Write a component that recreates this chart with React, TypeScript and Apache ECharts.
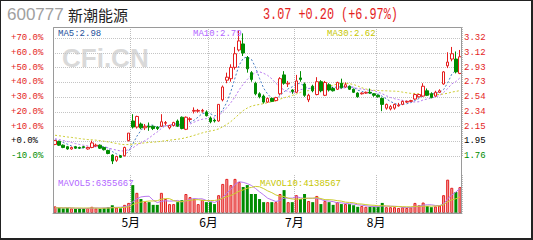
import React, { useEffect, useRef } from 'react';
import * as echarts from 'echarts';

const STOCK_CODE = '600777';
const STOCK_NAME = '新潮能源';
// close used as the 0.0% line of the percentage scale
const BASE_PRICE = 1.952;

const MONTH_NAMES = ['4月', '5月', '6月', '7月', '8月'];
const SESSIONS_PER_MONTH = [19, 19, 21, 20, 21];

// daily bars: [open, close, low, high]
const candles: number[][] = [
  // 4月
  [1.91, 1.96, 1.90, 1.97], [1.95, 1.90, 1.89, 1.96], [1.90, 1.87, 1.86, 1.91], [1.88, 1.85, 1.84, 1.89],
  [1.85, 1.87, 1.84, 1.88], [1.88, 1.86, 1.85, 1.89], [1.87, 1.86, 1.85, 1.88], [1.88, 1.87, 1.86, 1.89],
  [1.85, 1.87, 1.84, 1.88], [1.87, 1.93, 1.86, 1.96], [1.89, 1.90, 1.88, 1.92], [1.90, 1.86, 1.85, 1.91],
  [1.87, 1.84, 1.83, 1.88], [1.83, 1.79, 1.78, 1.84], [1.77, 1.69, 1.65, 1.78], [1.70, 1.75, 1.68, 1.76],
  [1.76, 1.74, 1.73, 1.77], [1.76, 1.87, 1.75, 1.88], [1.96, 2.06, 1.95, 2.06],
  // 5月
  [2.22, 2.14, 2.12, 2.31], [2.14, 2.28, 2.12, 2.29], [2.18, 2.13, 2.11, 2.20], [2.13, 2.15, 2.10, 2.18],
  [2.15, 2.14, 2.09, 2.20], [2.15, 2.12, 2.10, 2.16], [2.14, 2.12, 2.10, 2.15], [2.15, 2.21, 2.14, 2.31],
  [2.19, 2.20, 2.16, 2.22], [2.13, 2.16, 2.11, 2.17], [2.16, 2.20, 2.15, 2.21], [2.22, 2.15, 2.14, 2.24],
  [2.27, 2.12, 2.11, 2.28], [2.11, 2.27, 2.10, 2.28], [2.24, 2.25, 2.21, 2.27], [2.35, 2.36, 2.32, 2.40],
  [2.35, 2.36, 2.33, 2.38], [2.35, 2.36, 2.33, 2.38], [2.34, 2.29, 2.28, 2.36],
  // 6月
  [2.26, 2.21, 2.19, 2.28], [2.23, 2.22, 2.20, 2.25], [2.22, 2.44, 2.21, 2.44], [2.50, 2.67, 2.48, 2.69],
  [2.76, 2.80, 2.72, 2.86], [2.78, 2.93, 2.74, 2.97], [2.93, 3.11, 2.90, 3.20], [3.16, 3.28, 3.14, 3.42],
  [3.24, 3.12, 3.08, 3.38], [3.06, 2.91, 2.86, 3.08], [2.86, 2.77, 2.74, 2.88], [2.72, 2.58, 2.56, 2.74],
  [2.58, 2.54, 2.52, 2.60], [2.55, 2.47, 2.45, 2.57], [2.47, 2.52, 2.46, 2.53], [2.52, 2.48, 2.47, 2.53],
  [2.49, 2.53, 2.48, 2.54], [2.58, 2.78, 2.56, 2.80], [2.83, 2.72, 2.70, 2.88], [2.71, 2.72, 2.67, 2.75],
  [2.63, 2.61, 2.58, 2.64],
  // 7月
  [2.60, 2.75, 2.59, 2.83], [2.79, 2.77, 2.74, 2.88], [2.71, 2.56, 2.54, 2.73], [2.50, 2.56, 2.47, 2.58],
  [2.68, 2.62, 2.60, 2.70], [2.57, 2.74, 2.56, 2.80], [2.74, 2.62, 2.60, 2.76], [2.56, 2.73, 2.55, 2.75],
  [2.70, 2.63, 2.61, 2.72], [2.65, 2.62, 2.61, 2.67], [2.64, 2.73, 2.63, 2.74], [2.72, 2.66, 2.65, 2.78],
  [2.67, 2.70, 2.66, 2.73], [2.68, 2.64, 2.63, 2.69], [2.64, 2.60, 2.59, 2.65], [2.59, 2.54, 2.53, 2.60],
  [2.58, 2.59, 2.57, 2.60], [2.59, 2.60, 2.58, 2.61], [2.60, 2.59, 2.58, 2.65], [2.58, 2.56, 2.54, 2.59],
  // 8月
  [2.56, 2.54, 2.53, 2.57], [2.52, 2.44, 2.35, 2.53], [2.39, 2.44, 2.37, 2.45], [2.38, 2.41, 2.36, 2.43],
  [2.39, 2.44, 2.37, 2.45], [2.42, 2.43, 2.41, 2.46], [2.44, 2.48, 2.43, 2.49], [2.47, 2.48, 2.46, 2.49],
  [2.48, 2.49, 2.47, 2.50], [2.51, 2.57, 2.50, 2.58], [2.54, 2.57, 2.53, 2.58], [2.55, 2.68, 2.54, 2.72],
  [2.62, 2.56, 2.55, 2.65], [2.58, 2.53, 2.52, 2.60], [2.55, 2.60, 2.54, 2.62], [2.60, 2.62, 2.59, 2.64],
  [2.71, 2.87, 2.70, 2.88], [2.95, 3.00, 2.92, 3.13], [3.04, 3.11, 3.01, 3.20], [3.04, 2.87, 2.85, 3.14],
  [2.85, 3.07, 2.84, 3.16],
];

// daily volume, shares
const volumes: number[] = [
  // 4月
  1700000, 1300000, 1200000, 1300000, 1200000, 1100000, 1200000, 1200000, 1300000, 1600000,
  1200000, 1100000, 1300000, 1500000, 2000000, 1400000, 1200000, 2100000, 2600000,
  // 5月
  7200000, 5200000, 3600000, 2800000, 2800000, 2100000, 2100000, 5200000, 3600000, 2300000,
  2300000, 2800000, 3300000, 4900000, 4100000, 3600000, 2300000, 3400000, 2800000,
  // 6月
  2800000, 2300000, 4600000, 7500000, 8800000, 7200000, 8800000, 8000000, 6700000, 7200000,
  4900000, 4900000, 3600000, 2800000, 2800000, 2800000, 2800000, 4900000, 5900000, 2800000, 2800000,
  // 7月
  4600000, 3600000, 4900000, 3100000, 2800000, 4400000, 2300000, 3100000, 2800000, 2100000,
  2800000, 2300000, 2300000, 2300000, 2000000, 1600000, 1800000, 1600000, 1600000, 1600000,
  // 8月
  1600000, 2600000, 1500000, 1500000, 1500000, 1300000, 1500000, 1300000, 1500000, 2600000,
  2000000, 2700000, 1800000, 1500000, 1700000, 1907335, 4600000, 8600000, 6500000, 5400000, 6678335,
];

// sessions before the first drawn bar, used to seed the moving averages
const priorCloses: number[] = [
  2.10, 2.12, 2.08, 2.05, 2.07, 2.11, 2.09, 2.04, 2.02, 2.05, 2.08, 2.06, 2.03, 2.01, 2.04,
  2.06, 2.03, 2.02, 2.00, 2.03, 2.01, 1.99, 1.98, 2.00, 2.01, 1.98, 1.97, 1.96, 1.99,
];
const priorVolumes: number[] = [1300000, 1500000, 1200000, 1400000, 1300000, 1100000, 1400000, 1200000, 1300000];

// layout
const PLOT_LEFT = 53;
const PLOT_WIDTH = 409;
const PRICE_TOP = 27;
const PRICE_BOTTOM = 156; // y of the -10% line
const PX_PER_STEP = 14.75; // pixels per 10% step
const VOL_TOP = 175;
const VOL_HEIGHT = 38;
const VOL_MAX = 9800000;

const MIN_PCT = -10;
const MAX_PCT = MIN_PCT + ((PRICE_BOTTOM - PRICE_TOP) / PX_PER_STEP) * 10;

const RED = '#e41e1e';
const GREEN = '#008c00';
const MA5_LINE = '#4a7fc4';
const MA10_LINE = '#b878f0';
const MA30_LINE = '#cccc2e';
const MA5_TEXT = '#1d4f9a';
const MA10_TEXT = '#b266ff';
const MA30_TEXT = '#c6c600';
const MONO = '"Liberation Mono", "DejaVu Sans Mono", monospace';

const categories: string[] = [];
const monthStarts: number[] = [];
MONTH_NAMES.forEach((m, mi) => {
  monthStarts.push(categories.length);
  for (let d = 0; d < SESSIONS_PER_MONTH[mi]; d++) categories.push(`${m}#${d + 1}`);
});
const boundaryIdx = new Set(monthStarts.slice(1));

function movingAverage(values: number[], prior: number[], n: number): (number | string)[] {
  const all = prior.concat(values);
  return values.map((_, i) => {
    const end = prior.length + i;
    if (end + 1 < n) return '-';
    let s = 0;
    for (let k = end - n + 1; k <= end; k++) s += all[k];
    return s / n;
  });
}

const closes = candles.map((c) => c[1]);
const ma5 = movingAverage(closes, priorCloses, 5);
const ma10 = movingAverage(closes, priorCloses, 10);
const ma30 = movingAverage(closes, priorCloses, 30);
const mavol5 = movingAverage(volumes, priorVolumes, 5);
const mavol10 = movingAverage(volumes, priorVolumes, 10);

const last = candles.length - 1;
const lastClose = closes[last];
const prevClose = closes[last - 1];
const change = lastClose - prevClose;
const changePct = (change / prevClose) * 100;
const sign = (v: number) => (v >= 0 ? '+' : '-');
const quoteText = `${lastClose.toFixed(2)} ${sign(change)}${Math.abs(change).toFixed(2)} (${sign(changePct)}${Math.abs(changePct).toFixed(2)}%)`;

function pctColor(v: number) {
  if (Math.abs(v) < 1e-6) return '#000';
  return v > 0 ? RED : GREEN;
}

export default function App() {
  const ref = useRef<HTMLDivElement>(null);

  useEffect(() => {
    document.body.style.margin = '0';
    if (!ref.current) return;
    const chart = echarts.init(ref.current, undefined, { renderer: 'svg' });

    const priceMin = BASE_PRICE * (1 + MIN_PCT / 100);
    const priceMax = BASE_PRICE * (1 + MAX_PCT / 100);

    const splitX = {
      show: true,
      interval: (i: number) => boundaryIdx.has(i),
      lineStyle: { color: '#bdbdbd', type: 'dotted' as const, width: 1 },
    };

    const maLine = (name: string, data: (number | string)[], color: string, xi: number, yi: number, dotted: boolean) => ({
      name,
      type: 'line',
      xAxisIndex: xi,
      yAxisIndex: yi,
      data,
      showSymbol: false,
      symbol: 'none',
      clip: false,
      silent: true,
      lineStyle: { color, width: 1, type: dotted ? [2, 2] : 'solid' },
      z: 3,
    });

    const label = (text: string, x: number, y: number, fill: string) => ({
      type: 'text',
      x,
      y,
      style: { text, fill, font: `9px ${MONO}`, textVerticalAlign: 'middle' },
      z: 10,
    });

    chart.setOption({
      animation: false,
      backgroundColor: '#ffffff',
      grid: [
        { left: PLOT_LEFT, top: PRICE_TOP, width: PLOT_WIDTH, height: PRICE_BOTTOM - PRICE_TOP },
        { left: PLOT_LEFT, top: VOL_TOP, width: PLOT_WIDTH, height: VOL_HEIGHT },
      ],
      xAxis: [
        {
          type: 'category',
          gridIndex: 0,
          data: categories,
          boundaryGap: true,
          axisLine: { show: false },
          axisTick: { show: false },
          axisLabel: { show: false },
          splitLine: splitX,
        },
        {
          type: 'category',
          gridIndex: 1,
          data: categories,
          boundaryGap: true,
          axisLine: { show: true, lineStyle: { color: '#9a9a9a', width: 1 } },
          axisTick: { show: false },
          axisLabel: {
            interval: (i: number) => boundaryIdx.has(i),
            formatter: (v: string) => v.split('#')[0],
            color: '#000',
            fontSize: 12,
            fontFamily: '"Noto Sans CJK SC", sans-serif',
            margin: 2,
            padding: [0, 4, 0, 0],
          },
          splitLine: splitX,
        },
      ],
      yAxis: [
        {
          type: 'value',
          gridIndex: 0,
          position: 'left',
          min: MIN_PCT,
          max: MAX_PCT,
          interval: 10,
          axisLine: { show: false },
          axisTick: { show: false },
          axisLabel: {
            showMaxLabel: false,
            align: 'left',
            margin: 42,
            fontFamily: MONO,
            fontSize: 9,
            color: (v: any) => pctColor(Number(v)),
            formatter: (v: number) => {
              if (Math.abs(v / 10 - Math.round(v / 10)) > 1e-6) return '';
              return `${v >= 0 ? '+' : '-'}${Math.abs(v).toFixed(1)}%`;
            },
          },
          splitLine: { show: true, lineStyle: { color: '#c4c4c4', type: 'dotted', width: 1 } },
        },
        {
          type: 'value',
          gridIndex: 0,
          position: 'right',
          min: priceMin,
          max: priceMax,
          interval: BASE_PRICE * 0.1,
          axisLine: { show: false },
          axisTick: { show: false },
          splitLine: { show: false },
          axisLabel: {
            showMaxLabel: false,
            margin: 2,
            fontFamily: MONO,
            fontSize: 9,
            color: (v: any) => pctColor(Number(v) - BASE_PRICE),
            formatter: (v: number) => v.toFixed(2),
          },
        },
        {
          type: 'value',
          gridIndex: 1,
          min: 0,
          max: VOL_MAX,
          axisLine: { show: false },
          axisTick: { show: false },
          axisLabel: { show: false },
          splitLine: { show: false },
        },
      ],
      series: [
        {
          name: 'K',
          type: 'candlestick',
          xAxisIndex: 0,
          yAxisIndex: 1,
          data: candles,
          barWidth: 3,
          clip: false,
          itemStyle: {
            color: '#ffffff',
            color0: GREEN,
            borderColor: RED,
            borderColor0: GREEN,
            borderColorDoji: RED,
            borderWidth: 1,
          },
          z: 4,
        },
        maLine('MA5', ma5, MA5_LINE, 0, 1, true),
        maLine('MA10', ma10, MA10_LINE, 0, 1, true),
        maLine('MA30', ma30, MA30_LINE, 0, 1, true),
        {
          name: 'VOL',
          type: 'bar',
          xAxisIndex: 1,
          yAxisIndex: 2,
          barWidth: 3,
          data: volumes.map((v, i) => {
            const up = candles[i][1] >= candles[i][0];
            return {
              value: v,
              itemStyle: up
                ? { color: '#f3a5a5', borderColor: RED, borderWidth: 1 }
                : { color: GREEN, borderColor: GREEN, borderWidth: 0 },
            };
          }),
          z: 2,
        },
        maLine('MAVOL5', mavol5, MA10_LINE, 1, 2, false),
        maLine('MAVOL10', mavol10, MA30_LINE, 1, 2, false),
      ],
      graphic: [
        {
          type: 'text',
          x: 7,
          y: 14,
          style: { text: STOCK_CODE, fill: '#a0a0a0', font: '17px "Liberation Sans", Arial, sans-serif', textVerticalAlign: 'middle' },
        },
        {
          type: 'text',
          x: 68,
          y: 14,
          style: { text: STOCK_NAME, fill: '#222', font: '15px "Noto Sans CJK SC", sans-serif', textVerticalAlign: 'middle' },
        },
        {
          type: 'text',
          x: 263,
          y: 14,
          scaleX: 0.74,
          style: { text: quoteText, fill: RED, font: `16px ${MONO}`, textVerticalAlign: 'middle' },
        },
        {
          type: 'text',
          x: 62,
          y: 57.5,
          z: 0,
          style: { text: 'CFi.CN', fill: '#d9d9d9', font: 'bold 26px "Liberation Sans", Arial, sans-serif', textVerticalAlign: 'middle' },
        },
        label(`MA5:${(ma5[last] as number).toFixed(2)}`, 58, 34, MA5_TEXT),
        label(`MA10:${(ma10[last] as number).toFixed(2)}`, 193, 34, MA10_TEXT),
        label(`MA30:${(ma30[last] as number).toFixed(2)}`, 327, 34, MA30_TEXT),
        label(`MAVOL5:${Math.round(mavol5[last] as number)}`, 58, 183.5, MA10_TEXT),
        label(`MAVOL10:${Math.round(mavol10[last] as number)}`, 260, 183.5, MA30_TEXT),
        {
          type: 'rect',
          z: 20,
          silent: true,
          shape: { x: PLOT_LEFT + 0.5, y: PRICE_TOP + 0.5, width: PLOT_WIDTH - 1, height: VOL_TOP + VOL_HEIGHT - PRICE_TOP - 0.5 },
          style: { fill: 'none', stroke: '#9a9a9a', lineWidth: 1 },
        },
      ],
    });

    return () => chart.dispose();
  }, []);

  return (
    <div style={{ position: 'relative', width: 533, height: 240, background: '#fff' }}>
      <div ref={ref} style={{ position: 'absolute', left: 0, top: 0, width: 533, height: 240 }} />
      <div
        style={{
          position: 'absolute',
          left: 0,
          top: 0,
          width: 533,
          height: 240,
          boxSizing: 'border-box',
          borderTop: '1px solid #222',
          borderLeft: '1px solid #222',
          borderRight: '2px solid #222',
          borderBottom: '2px solid #222',
          pointerEvents: 'none',
        }}
      />
    </div>
  );
}
